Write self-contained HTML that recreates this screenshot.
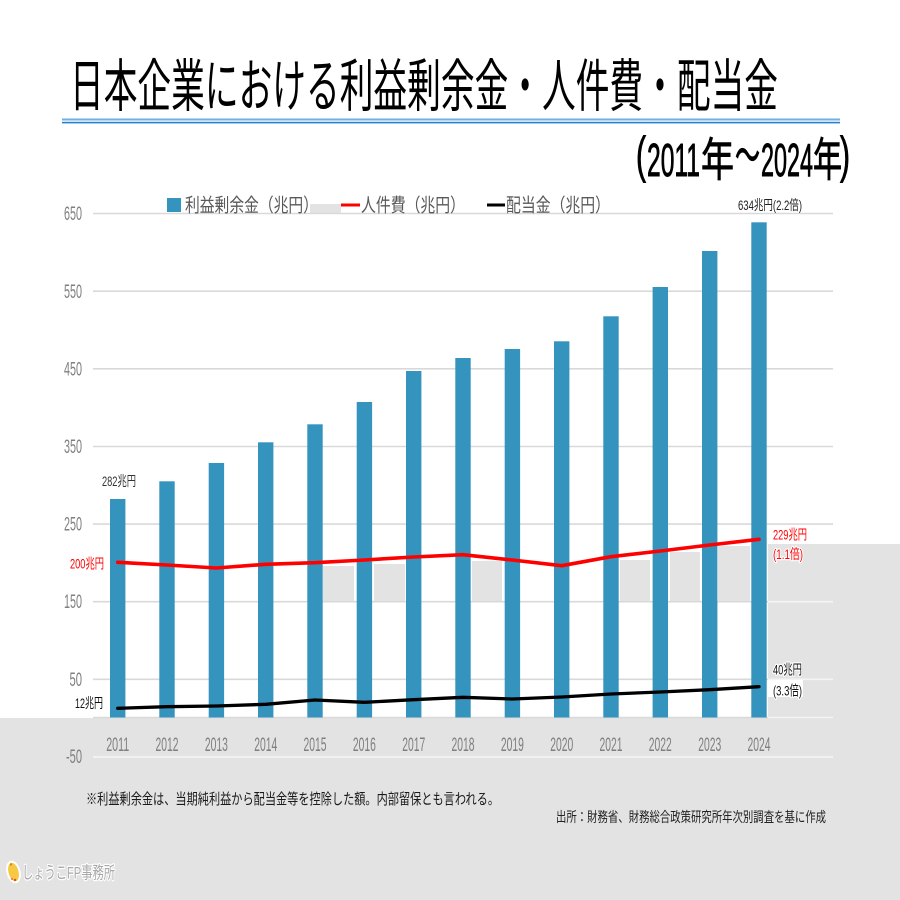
<!DOCTYPE html>
<html>
<head>
<meta charset="utf-8">
<style>
  html,body{margin:0;padding:0;background:#fff;}
  svg{display:block;}
  text{font-family:"Liberation Sans","Noto Sans CJK JP",sans-serif;}
</style>
</head>
<body>
<svg width="900" height="900" viewBox="0 0 900 900" xmlns="http://www.w3.org/2000/svg">
  <rect x="0" y="0" width="900" height="900" fill="#ffffff"/>

  <!-- Title -->
  <text x="70" y="106" font-size="57" fill="#000" textLength="708" lengthAdjust="spacingAndGlyphs">日本企業における利益剰余金・人件費・配当金</text>
  <rect x="62" y="118.5" width="778" height="2" fill="#6cb0e6"/>
  <rect x="62" y="121.8" width="778" height="1.6" fill="#2b7fd2"/>

  <!-- Subtitle -->
  <g fill="#000" stroke="#000" stroke-width="0.9">
    <text x="636" y="172" font-size="50" textLength="10" lengthAdjust="spacingAndGlyphs">(</text>
    <text x="647" y="176" font-size="46" textLength="53" lengthAdjust="spacingAndGlyphs">2011</text>
    <text x="701" y="176" font-size="46" textLength="33" lengthAdjust="spacingAndGlyphs">年</text>
    <text x="735" y="172" font-size="46" textLength="25" lengthAdjust="spacingAndGlyphs">～</text>
    <text x="761" y="176" font-size="46" textLength="52" lengthAdjust="spacingAndGlyphs">2024</text>
    <text x="813" y="176" font-size="46" textLength="29" lengthAdjust="spacingAndGlyphs">年</text>
    <text x="840" y="172" font-size="50" textLength="10" lengthAdjust="spacingAndGlyphs">)</text>
  </g>

  <!-- Gray background regions -->
  <rect x="0" y="718" width="900" height="182" fill="#e3e3e3"/>
  <rect x="768" y="544" width="132" height="174" fill="#e3e3e3"/>

  <!-- Gray artifact boxes -->
  <g fill="#e3e3e3">
    <rect x="323" y="566" width="31" height="35.5"/>
    <rect x="374" y="564" width="31" height="37.5"/>
    <rect x="472" y="561" width="30" height="40.5"/>
    <rect x="620" y="560" width="30" height="41.5"/>
    <rect x="670" y="552" width="30" height="49.5"/>
    <rect x="718" y="546" width="32" height="55.5"/>
    <rect x="310" y="204" width="31" height="9"/>
  </g>

  <!-- Gridlines -->
  <g stroke="#d9d9d9" stroke-width="1.6">
    <line x1="93" y1="213.5" x2="833" y2="213.5"/>
    <line x1="93" y1="291.2" x2="833" y2="291.2"/>
    <line x1="93" y1="368.8" x2="833" y2="368.8"/>
    <line x1="93" y1="446.5" x2="833" y2="446.5"/>
    <line x1="93" y1="524.1" x2="833" y2="524.1"/>
    <line x1="93" y1="601.7" x2="768" y2="601.7"/>
    <line x1="93" y1="679.3" x2="768" y2="679.3"/>
    <line x1="93" y1="717.5" x2="768" y2="717.5"/>
  </g>
  <g stroke="#f4f4f4" stroke-width="1.6">
    <line x1="768" y1="601.7" x2="833" y2="601.7"/>
    <line x1="768" y1="679.3" x2="833" y2="679.3"/>
    <line x1="768" y1="717.5" x2="833" y2="717.5"/>
    <line x1="93" y1="756.9" x2="833" y2="756.9"/>
  </g>

  <!-- Bars -->
  <g fill="#3594bd">
    <rect x="110.0" y="499" width="15.4" height="218.5"/>
    <rect x="159.3" y="481.3" width="15.4" height="236.2"/>
    <rect x="208.7" y="463" width="15.4" height="254.5"/>
    <rect x="258.0" y="442.3" width="15.4" height="275.2"/>
    <rect x="307.3" y="424.3" width="15.4" height="293.2"/>
    <rect x="356.7" y="402" width="15.4" height="315.5"/>
    <rect x="406.0" y="371" width="15.4" height="346.5"/>
    <rect x="455.3" y="358" width="15.4" height="359.5"/>
    <rect x="504.7" y="349" width="15.4" height="368.5"/>
    <rect x="554.0" y="341.3" width="15.4" height="376.2"/>
    <rect x="603.3" y="316.3" width="15.4" height="401.2"/>
    <rect x="652.6" y="287" width="15.4" height="430.5"/>
    <rect x="702.0" y="251" width="15.4" height="466.5"/>
    <rect x="751.3" y="222.3" width="15.4" height="495.2"/>
  </g>

  <!-- Lines -->
  <polyline fill="none" stroke="#ff0000" stroke-width="3.6" stroke-linejoin="round" stroke-linecap="round"
    points="117.7,562.3 167,565 216.4,568 265.7,564.3 315,562.7 364.4,560 413.7,557 463,554.7 512.4,560 561.7,565.7 611,556.7 660.3,551 709.7,545 759,539.3"/>
  <polyline fill="none" stroke="#000000" stroke-width="3.3" stroke-linejoin="round" stroke-linecap="round"
    points="117.7,708.3 167,706.7 216.4,706 265.7,704.3 315,700 364.4,702.3 413.7,699.7 463,697.3 512.4,699 561.7,697 611,694 660.3,692 709.7,689.7 759,686.7"/>

  <!-- Y axis labels -->
  <g font-size="19" fill="#7f7f7f" text-anchor="end">
    <text x="82" y="220" textLength="18" lengthAdjust="spacingAndGlyphs">650</text>
    <text x="82" y="298" textLength="18" lengthAdjust="spacingAndGlyphs">550</text>
    <text x="82" y="375.5" textLength="18" lengthAdjust="spacingAndGlyphs">450</text>
    <text x="82" y="453" textLength="18" lengthAdjust="spacingAndGlyphs">350</text>
    <text x="82" y="530.5" textLength="18" lengthAdjust="spacingAndGlyphs">250</text>
    <text x="82" y="608" textLength="18" lengthAdjust="spacingAndGlyphs">150</text>
    <text x="82" y="686" textLength="12.5" lengthAdjust="spacingAndGlyphs">50</text>
    <text x="82" y="763" textLength="16" lengthAdjust="spacingAndGlyphs">-50</text>
  </g>

  <!-- X axis labels -->
  <g font-size="19" fill="#7f7f7f" text-anchor="middle">
    <text x="117.7" y="751" textLength="23" lengthAdjust="spacingAndGlyphs">2011</text>
    <text x="167.0" y="751" textLength="23" lengthAdjust="spacingAndGlyphs">2012</text>
    <text x="216.4" y="751" textLength="23" lengthAdjust="spacingAndGlyphs">2013</text>
    <text x="265.7" y="751" textLength="23" lengthAdjust="spacingAndGlyphs">2014</text>
    <text x="315.0" y="751" textLength="23" lengthAdjust="spacingAndGlyphs">2015</text>
    <text x="364.4" y="751" textLength="23" lengthAdjust="spacingAndGlyphs">2016</text>
    <text x="413.7" y="751" textLength="23" lengthAdjust="spacingAndGlyphs">2017</text>
    <text x="463.0" y="751" textLength="23" lengthAdjust="spacingAndGlyphs">2018</text>
    <text x="512.4" y="751" textLength="23" lengthAdjust="spacingAndGlyphs">2019</text>
    <text x="561.7" y="751" textLength="23" lengthAdjust="spacingAndGlyphs">2020</text>
    <text x="611.0" y="751" textLength="23" lengthAdjust="spacingAndGlyphs">2021</text>
    <text x="660.3" y="751" textLength="23" lengthAdjust="spacingAndGlyphs">2022</text>
    <text x="709.7" y="751" textLength="23" lengthAdjust="spacingAndGlyphs">2023</text>
    <text x="759.0" y="751" textLength="23" lengthAdjust="spacingAndGlyphs">2024</text>
  </g>

  <!-- Legend -->
  <rect x="167" y="198" width="14" height="14" fill="#3594bd"/>
  <text x="185" y="211.5" font-size="19" fill="#595959" textLength="133" lengthAdjust="spacingAndGlyphs">利益剰余金（兆円）</text>
  <line x1="341" y1="205" x2="360" y2="205" stroke="#ff0000" stroke-width="3"/>
  <text x="361" y="211.5" font-size="19" fill="#595959" textLength="104" lengthAdjust="spacingAndGlyphs">人件費（兆円）</text>
  <line x1="487" y1="205" x2="505" y2="205" stroke="#000000" stroke-width="3"/>
  <text x="506" y="211.5" font-size="19" fill="#595959" textLength="104" lengthAdjust="spacingAndGlyphs">配当金（兆円）</text>

  <!-- Data labels -->
  <g font-size="14">
    <text x="102" y="486" fill="#333" textLength="34" lengthAdjust="spacingAndGlyphs">282兆円</text>
    <text x="738" y="210" fill="#222" textLength="64" lengthAdjust="spacingAndGlyphs">634兆円(2.2倍)</text>
    <text x="70" y="568.5" fill="#ff0000" textLength="34" lengthAdjust="spacingAndGlyphs">200兆円</text>
    <text x="75" y="708" fill="#111" textLength="28" lengthAdjust="spacingAndGlyphs">12兆円</text>
  </g>
  <rect x="768" y="680" width="35" height="17" fill="#ffffff"/>
  <g font-size="14" stroke="#ffffff" stroke-width="2.5" paint-order="stroke" stroke-linejoin="round">
    <text x="773" y="539.5" fill="#ff0000" textLength="34" lengthAdjust="spacingAndGlyphs">229兆円</text>
    <text x="773" y="559" fill="#ff0000" textLength="30" lengthAdjust="spacingAndGlyphs">(1.1倍)</text>
    <text x="773" y="674.5" fill="#111" textLength="29" lengthAdjust="spacingAndGlyphs">40兆円</text>
    <text x="773" y="695.5" fill="#111" textLength="29" lengthAdjust="spacingAndGlyphs">(3.3倍)</text>
  </g>

  <!-- Notes -->
  <text x="86" y="804" font-size="15" fill="#1a1a1a" textLength="413" lengthAdjust="spacingAndGlyphs">※利益剰余金は、当期純利益から配当金等を控除した額。内部留保とも言われる。</text>
  <text x="556" y="822" font-size="14" fill="#222" textLength="270" lengthAdjust="spacingAndGlyphs">出所：財務省、財務総合政策研究所年次別調査を基に作成</text>

  <!-- Logo -->
  <g>
    <ellipse cx="13.5" cy="872" rx="6" ry="10.5" transform="rotate(-15 13.5 872)" fill="#f6c844" stroke="#ffffff" stroke-width="2"/>
    <circle cx="11" cy="864.5" r="1.2" fill="#d08a1a"/>
    <circle cx="15" cy="880" r="1.2" fill="#e0522a"/>
    <circle cx="12" cy="879" r="0.9" fill="#e0522a"/>
    <text x="22" y="878.5" font-size="17" fill="#a8a8a8" stroke="#ffffff" stroke-width="2.5" paint-order="stroke" stroke-linejoin="round" textLength="93" lengthAdjust="spacingAndGlyphs">しょうこFP事務所</text>
  </g>
</svg>
</body>
</html>
